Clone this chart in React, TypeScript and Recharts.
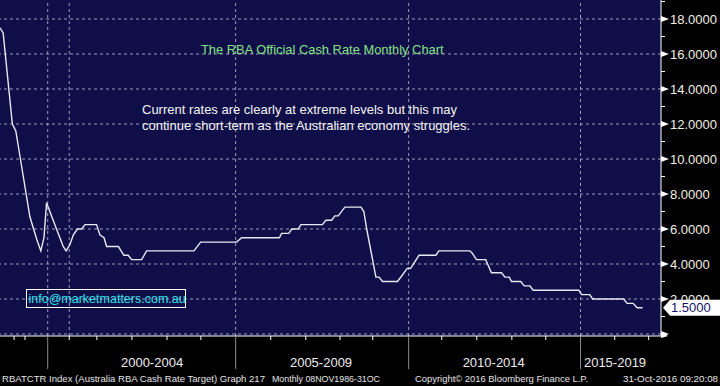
import { LineChart, Line, XAxis, YAxis, CartesianGrid, ReferenceLine } from 'recharts';

// position along the time axis (months; the early 90s are squeezed as in the Bloomberg print)
const monthIdx = [
  0, 1.1, 4.3, 5.5, 7.0, 8.3, 10.4, 12.8, 14.2, 15.3,
  16.2, 18.5, 22.0, 23.0, 24.3, 25.5, 26.9, 28.4, 29.6, 33.6,
  34.8, 36.2, 37.1, 41.2, 43.1, 44.6, 45.8, 49.3, 51.0, 67.5,
  69.8, 82.3, 84.1, 97.2, 98.0, 100.5, 101.5, 103.8, 104.7, 112.2,
  113.4, 115.4, 116.5, 117.7, 120.0, 125.6, 126.6, 127.6, 130.8, 131.9,
  133.1, 138.3, 139.7, 141.7, 142.9, 145.8, 151.7, 152.7, 163.5, 164.4,
  165.8, 169.0, 171.0, 174.5, 175.7, 177.2, 178.0, 181.2, 182.4, 184.4,
  185.5, 201.4, 202.4, 205.2, 206.2, 217.0, 218.2, 220.3, 221.7, 223.6,
];
const cashRate = [
  17.5, 17.2, 12.0, 11.6, 10.1, 8.8, 6.7, 5.4, 4.75, 5.5,
  7.5, 6.5, 5.0, 4.75, 5.1, 5.65, 6.0, 6.0, 6.25, 6.25,
  5.65, 5.5, 5.0, 5.0, 4.5, 4.5, 4.25, 4.25, 4.75, 4.75,
  5.25, 5.25, 5.5, 5.5, 5.75, 5.75, 6.0, 6.0, 6.25, 6.25,
  6.5, 6.5, 6.75, 6.75, 7.25, 7.25, 7.0, 6.0, 3.25, 3.25,
  3.0, 3.0, 3.3, 3.75, 3.75, 4.5, 4.5, 4.75, 4.75, 4.6,
  4.25, 4.25, 3.5, 3.5, 3.25, 3.25, 3.0, 3.0, 2.75, 2.75,
  2.5, 2.5, 2.25, 2.25, 2.0, 2.0, 1.75, 1.75, 1.5, 1.5,
];

const periodLabels = ['2000-2004', '2005-2009', '2010-2014', '2015-2019'];
const periodLabelAt = [52.9, 111.7, 171.8, 214.0];
const periodStarts = [16.6, 82.0, 142.2, 202.0];
const xMinorTicks = [4.9, 8.7, 24.1, 33.7, 45.9, 58.1, 69.9, 94.2, 106.4, 118.3, 129.7, 153.7, 165.9, 178.1, 189.9, 213.9, 225.7];
const xGridLines = [16.6, 24.1, 82.0, 142.2, 202.0];
const xEnd = 230;

const yMajorTicks = [0, 2, 4, 6, 8, 10, 12, 14, 16, 18];
const yMinorTicks = [1, 3, 5, 7, 9, 11, 13, 15, 17, 19];

const data = monthIdx.map((m, i) => ({ m, rate: cashRate[i] }));
const lastRate = cashRate[cashRate.length - 1];

const FONT = '"Liberation Sans", Arial, sans-serif';
const NAVY = '#100e48';

function XTick(props: any) {
  const { x, y, payload } = props;
  const v = payload.value;
  const li = periodLabelAt.indexOf(v);
  if (li >= 0) {
    return (
      <text x={x} y={y + 30.5} textAnchor="middle" fill="#ececec" fontSize={13} fontFamily={FONT}>
        {periodLabels[li]}
      </text>
    );
  }
  if (periodStarts.includes(v)) {
    return <line x1={x} y1={y} x2={x} y2={y + 33} stroke="#8c8c8c" strokeWidth={1} />;
  }
  if (v === xEnd) {
    return <polygon points={`${x},${y - 3.5} ${x + 7},${y} ${x},${y + 2}`} fill="#ffffff" />;
  }
  return <line x1={x} y1={y} x2={x} y2={y + 4} stroke="#ffffff" strokeWidth={1} />;
}

function YTick(props: any) {
  const { x, y, payload } = props;
  const v = payload.value;
  if (v === lastRate && !yMajorTicks.includes(v)) {
    return (
      <g>
        <polygon points={`${x + 2},${y} ${x + 9},${y - 8} ${720},${y - 8} ${720},${y + 8} ${x + 9},${y + 8}`} fill="#ffffff" />
        <text x={x + 10} y={y + 4.5} fill="#12126a" fontSize={13} fontFamily={FONT}>
          {v.toFixed(4)}
        </text>
      </g>
    );
  }
  if (yMajorTicks.includes(v)) {
    return (
      <g>
        <polygon points={`${x},${y - 3} ${x + 8},${y} ${x},${y + 3}`} fill="#ffffff" />
        {v > 0 && (
          <text x={x + 9} y={y + 4.5} fill="#f2efe2" fontSize={13} fontFamily={FONT}>
            {v.toFixed(4)}
          </text>
        )}
      </g>
    );
  }
  return <line x1={x} y1={y} x2={x + 4} y2={y} stroke="#ffffff" strokeWidth={1} />;
}

export default function App() {
  return (
    <div style={{ position: 'absolute', left: 0, top: 0, width: 720, height: 386, background: '#000', overflow: 'hidden' }}>
      <LineChart width={720} height={386} data={data} margin={{ top: 0, right: 0, bottom: 0, left: 0 }}>
        <CartesianGrid fill={NAVY} horizontal={false} vertical={false} />
        {yMajorTicks.map((v) => (
          <ReferenceLine key={'h' + v} y={v} stroke="#9c9cb6" strokeDasharray="3 3" strokeWidth={1} />
        ))}
        {xGridLines.map((v) => (
          <ReferenceLine key={'v' + v} x={v} stroke="#9c9cb6" strokeDasharray="3 3" strokeWidth={1} />
        ))}
        <XAxis
          dataKey="m"
          type="number"
          domain={[0, xEnd]}
          allowDataOverflow
          ticks={[...xMinorTicks, ...periodStarts, ...periodLabelAt, xEnd]}
          interval={0}
          height={50}
          tickSize={0}
          tickMargin={0}
          tickLine={false}
          axisLine={{ stroke: '#ffffff', strokeWidth: 1 }}
          tick={<XTick />}
        />
        <YAxis
          orientation="right"
          type="number"
          domain={[-0.114, 19.086]}
          allowDataOverflow
          ticks={[...yMinorTicks, ...yMajorTicks, lastRate]}
          interval={0}
          width={59}
          tickSize={0}
          tickMargin={0}
          tickLine={false}
          axisLine={{ stroke: '#ffffff', strokeWidth: 1 }}
          tick={<YTick />}
        />
        <Line
          type="linear"
          dataKey="rate"
          stroke="#e8e8f2"
          strokeWidth={1.4}
          dot={false}
          activeDot={false}
          isAnimationActive={false}
        />
      </LineChart>
      <svg
        width={720}
        height={386}
        style={{ position: 'absolute', left: 0, top: 0, pointerEvents: 'none' }}
        fontFamily={FONT}
      >
        <text x={201} y={54} fill="#84e184" fontSize={12.9}>
          The RBA Official Cash Rate Monthly Chart
        </text>
        <text x={142} y={113.5} fill="#f4f4f4" fontSize={13}>
          Current rates are clearly at extreme levels but this may
        </text>
        <text x={142} y={129.5} fill="#f4f4f4" fontSize={13}>
          continue short-term as the Australian economy struggles.
        </text>
        <rect x={26.5} y={289.5} width={159} height={18} fill="none" stroke="#ffffff" strokeWidth={1} />
        <text x={28.5} y={302.5} fill="#2ee4ee" fontSize={12.5}>
          info@marketmatters.com.au
        </text>
        <text x={2} y={382} fill="#e4e4e4" fontSize={9.5} textLength={263} lengthAdjust="spacingAndGlyphs">
          RBATCTR Index (Australia RBA Cash Rate Target) Graph 217
        </text>
        <text x={272} y={382} fill="#e4e4e4" fontSize={9.5} textLength={108} lengthAdjust="spacingAndGlyphs">
          Monthly 08NOV1986-31OC
        </text>
        <text x={415} y={382} fill="#e4e4e4" fontSize={9.5} textLength={173} lengthAdjust="spacingAndGlyphs">
          Copyright© 2016 Bloomberg Finance L.P.
        </text>
        <text x={623} y={382} fill="#e4e4e4" fontSize={9.5} textLength={95} lengthAdjust="spacingAndGlyphs">
          31-Oct-2016 09:20:08
        </text>
      </svg>
    </div>
  );
}
